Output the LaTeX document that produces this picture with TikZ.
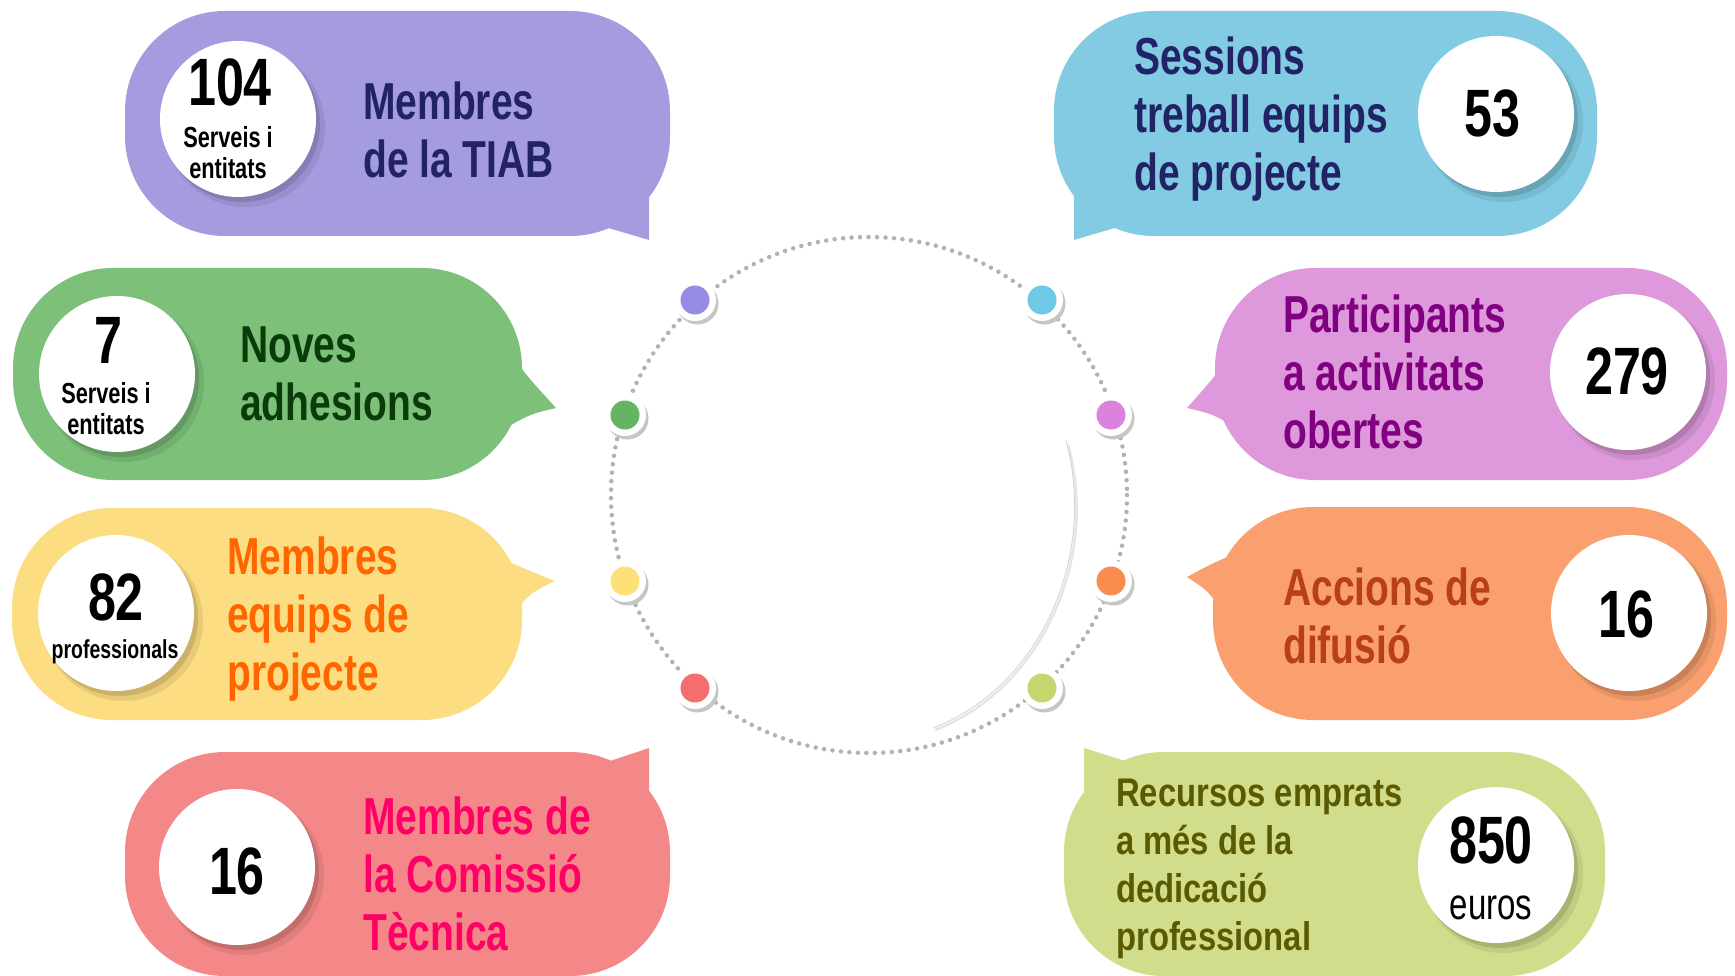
\documentclass[tikz,border=0pt]{standalone}
\usepackage{fontspec}
\setmainfont{Liberation Sans}[FakeStretch=0.75]
\newfontfamily\olivefont{Liberation Sans}[FakeStretch=0.82]
\usetikzlibrary{calc}
\definecolor{purB}{RGB}{165,156,224}
\definecolor{bluB}{RGB}{130,203,226}
\definecolor{grnB}{RGB}{124,192,122}
\definecolor{pnkB}{RGB}{221,153,219}
\definecolor{yelB}{RGB}{252,221,130}
\definecolor{orgB}{RGB}{250,160,110}
\definecolor{redB}{RGB}{244,136,136}
\definecolor{olvB}{RGB}{210,221,140}
\definecolor{navyT}{RGB}{34,34,102}
\definecolor{grnT}{RGB}{10,60,10}
\definecolor{pnkT}{RGB}{128,0,128}
\definecolor{yelT}{RGB}{255,102,0}
\definecolor{orgT}{RGB}{184,64,20}
\definecolor{redT}{RGB}{255,0,102}
\definecolor{olvT}{RGB}{90,90,0}
\definecolor{purD}{RGB}{150,140,230}
\definecolor{bluD}{RGB}{110,200,230}
\definecolor{grnD}{RGB}{100,180,100}
\definecolor{pnkD}{RGB}{220,130,220}
\definecolor{yelD}{RGB}{253,225,120}
\definecolor{orgD}{RGB}{250,140,80}
\definecolor{redD}{RGB}{245,110,110}
\definecolor{olvD}{RGB}{195,215,110}
\tikzset{
  bodyshape/.style={rounded corners=100pt},
  lbl/.style={anchor=north west, inner sep=0pt, align=left, font=\bfseries\fontsize{52}{58}\selectfont},
  olbl/.style={anchor=north west, inner sep=0pt, align=left, font=\olivefont\bfseries\fontsize{40}{48}\selectfont},
  num/.style={inner sep=0pt, font=\bfseries\fontsize{67}{67}\selectfont},
  subt/.style={inner sep=0pt, font=\bfseries\fontsize{29}{29}\selectfont},
  eur/.style={inner sep=0pt, font=\fontsize{44}{44}\selectfont},
}
\newcommand\numdisc[1]{%
  \fill[black,opacity=0.08] ($(#1)+(7,8)$) circle (80);
  \fill[black,opacity=0.12] ($(#1)+(4,5)$) circle (78);
  \fill[white] (#1) circle (78);
}
\newcommand\ringdot[2]{%
  \fill[gray!45] ($(#1)+(2.5,3.5)$) circle (21);
  \fill[white] (#1) circle (21);
  \fill[#2] (#1) circle (14.5);
}
\begin{document}
\begin{tikzpicture}[x=1pt,y=-1pt]
\useasboundingbox (0,0) rectangle (1735,976);
\fill[white] (0,0) rectangle (1735,976);

% ---------- bubbles ----------
% purple
\fill[purB, bodyshape] (125,11) rectangle (670,236);
\fill[purB] (595,224) -- (649,240) -- (649,182) -- cycle;
% blue
\fill[bluB, bodyshape] (1054,11) rectangle (1597,236);
\fill[bluB] (1128,224) -- (1074,240) -- (1074,182) -- cycle;
% green
\fill[grnB, bodyshape] (13,268) rectangle (522,480);
\fill[grnB] (500,339) .. controls (525,374) .. (556,408) .. controls (530,414) .. (495,434) -- cycle;
% pink
\fill[pnkB, bodyshape] (1215,268) rectangle (1727,480);
\fill[pnkB] (1242,339) .. controls (1217,374) .. (1187,408) .. controls (1213,414) .. (1247,434) -- cycle;
% yellow
\fill[yelB, bodyshape] (12,508) rectangle (522,720);
\fill[yelB] (500,558) .. controls (530,571) .. (555,581) .. controls (530,593) .. (505,623) -- cycle;
% orange
\fill[orgB, bodyshape] (1213,507) rectangle (1727,720);
\fill[orgB] (1240,552) .. controls (1215,562) .. (1187,577) .. controls (1210,592) .. (1232,627) -- cycle;
% red
\fill[redB, bodyshape] (125,752) rectangle (670,976);
\fill[redB] (595,766) -- (649,748) -- (649,812) -- cycle;
% olive
\fill[olvB, bodyshape] (1064,752) rectangle (1605,976);
\fill[olvB] (1135,764) -- (1084,748) -- (1084,812) -- cycle;

% ---------- number discs ----------
\coordinate (c1) at (238,119);
\coordinate (c2) at (117,374);
\coordinate (c3) at (116,613);
\coordinate (c4) at (237,867);
\coordinate (c5) at (1496,114);
\coordinate (c6) at (1628,372);
\coordinate (c7) at (1629,613);
\coordinate (c8) at (1496,865);
\numdisc{c1}\numdisc{c2}\numdisc{c3}\numdisc{c4}
\numdisc{c5}\numdisc{c6}\numdisc{c7}\numdisc{c8}

% ---------- numbers ----------
\node[num] (n1) at (230,82) {104};
\node[subt] (n1a) at (228,137) {Serveis i};
\node[subt] (n1b) at (228,168) {entitats};
\node[num] (n2) at (108,340) {7};
\node[subt] (n2a) at (106,393) {Serveis i};
\node[subt] (n2b) at (106,424) {entitats};
\node[num] (n3) at (116,597) {82};
\node[subt, font=\bfseries\fontsize{26}{26}\selectfont] (n3a) at (115,652) {professionals};
\node[num] (n4) at (237,871) {16};
\node[num] (n5) at (1492,113) {53};
\node[num] (n6) at (1627,371) {279};
\node[num] (n7) at (1626,614) {16};
\node[num] (n8) at (1491,840) {850};
\node[eur] (n8a) at (1491,908) {euros};

% ---------- labels ----------
\node[lbl, text=navyT] (t1) at (363,82) {Membres\\de la TIAB};
\node[lbl, text=navyT] (t5) at (1134,37) {Sessions\\treball equips\\de projecte};
\node[lbl, text=grnT] (t2) at (240,327) {Noves\\adhesions};
\node[lbl, text=pnkT] (t6) at (1283,295) {Participants\\a activitats\\obertes};
\node[lbl, text=yelT] (t3) at (227,537) {Membres\\equips de\\projecte};
\node[lbl, text=orgT] (t7) at (1283,568) {Accions de\\difusió};
\node[lbl, text=redT] (t4) at (363,797) {Membres de\\la Comissió\\Tècnica};
\node[olbl, text=olvT] (t8) at (1116,779) {Recursos emprats\\a més de la\\dedicació\\professional};

% ---------- central circle ----------
\draw[gray!60, line width=4.5pt, dash pattern=on 0pt off 8.5pt, line cap=round] (869,495) circle (258);
\draw[gray!20, line width=2.5pt] (1068,445) .. controls (1100,560) and (1040,690) .. (935,730);
\draw[gray!35, line width=0.8pt] (1066,440) .. controls (1098,560) and (1038,688) .. (933,728);
\ringdot{695,300}{purD}
\ringdot{1042,300}{bluD}
\ringdot{625,415}{grnD}
\ringdot{1111,415}{pnkD}
\ringdot{625,581}{yelD}
\ringdot{1111,581}{orgD}
\ringdot{695,688}{redD}
\ringdot{1042,688}{olvD}
\end{tikzpicture}
\end{document}
